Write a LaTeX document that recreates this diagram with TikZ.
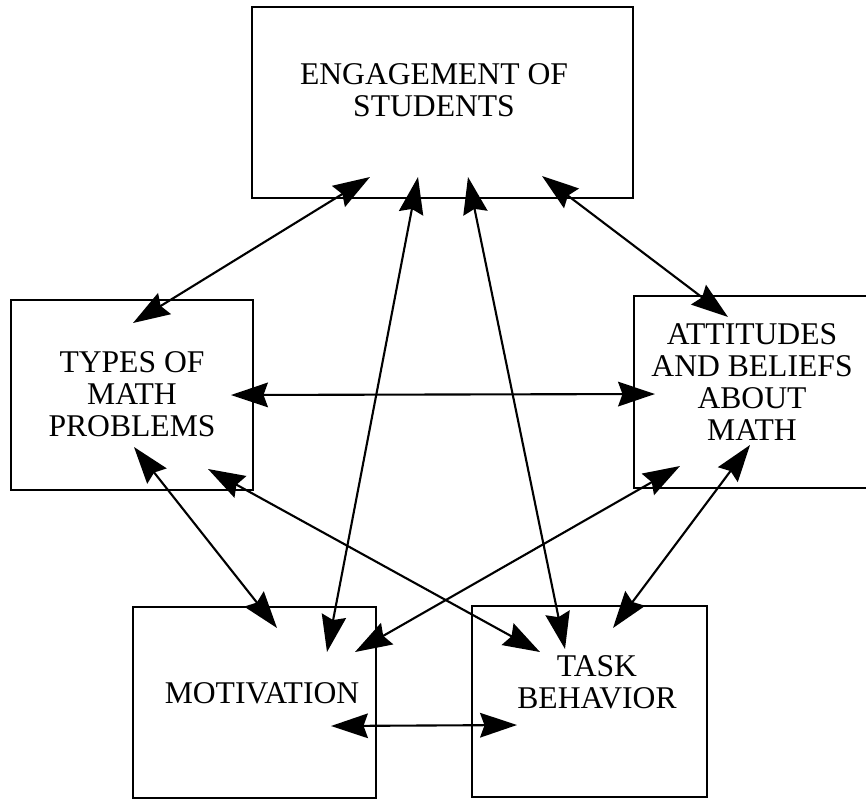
\documentclass[tikz,border=0pt]{standalone}
\usepackage{fontspec}
\setmainfont{Liberation Serif}
\usetikzlibrary{arrows.meta}
\tikzset{%
  box/.style={draw, line width=1.1pt, inner sep=0pt},
  lbl/.style={align=center, inner sep=0pt, font=\fontsize{18}{18.2}\selectfont},
  <->-/.style={{Stealth[length=21pt, width=14pt, inset=2.5pt]}-{Stealth[length=21pt, width=14pt, inset=2.5pt]},
              line width=1.2pt},
}

\begin{document}
\begin{tikzpicture}[x=0.02cm, y=-0.02cm]
    \useasboundingbox (0,0) rectangle (866,799);

    %boxes
    \node[box, minimum width=7.62cm, minimum height=3.82cm] (eng) at (442.5,102.5) {};
    \node[box, minimum width=4.84cm, minimum height=3.8cm] (types) at (132,395) {};
    \node[box, minimum width=4.92cm, minimum height=3.84cm] (att) at (757,392) {};
    \node[box, minimum width=4.86cm, minimum height=3.82cm] (mot) at (254.5,702.5) {};
    \node[box, minimum width=4.7cm, minimum height=3.82cm] (task) at (589.5,701.5) {};

    %labels
    \node[lbl] (engtxt) at (434,90.5) {ENGAGEMENT OF\\STUDENTS};
    \node[lbl] (typestxt) at (132,394.5) {TYPES OF\\MATH\\PROBLEMS};
    \node[lbl] (atttxt) at (752,382) {ATTITUDES\\AND BELIEFS\\ABOUT\\MATH};
    \node[lbl] (mottxt) at (262,693) {MOTIVATION};
    \node[lbl] (tasktxt) at (597,682.5) {TASK\\BEHAVIOR};

    %arrow ends
    \coordinate (E1) at (370,177);
    \coordinate (E2) at (418,177);
    \coordinate (E3) at (468,177);
    \coordinate (E4) at (542,176);
    \coordinate (T1) at (133,323);
    \coordinate (T2) at (231,395);
    \coordinate (T3) at (134,447);
    \coordinate (T4) at (208,469);
    \coordinate (A1) at (728,317);
    \coordinate (A2) at (655,394);
    \coordinate (A3) at (680,466);
    \coordinate (A4) at (750,445);
    \coordinate (M1) at (327,652);
    \coordinate (M2) at (277,628);
    \coordinate (M3) at (355,652);
    \coordinate (M4) at (331,726);
    \coordinate (K1) at (565,649);
    \coordinate (K2) at (540,652);
    \coordinate (K3) at (613,628);
    \coordinate (K4) at (517,725);

    %links between the boxes
    \draw[<->-] (E1) -- (T1);
    \draw[<->-] (E2) -- (M1);
    \draw[<->-] (E3) -- (K1);
    \draw[<->-] (E4) -- (A1);
    \draw[<->-] (T2) -- (A2);
    \draw[<->-] (T3) -- (M2);
    \draw[<->-] (T4) -- (K2);
    \draw[<->-] (A3) -- (M3);
    \draw[<->-] (A4) -- (K3);
    \draw[<->-] (M4) -- (K4);

\end{tikzpicture}
\end{document}
